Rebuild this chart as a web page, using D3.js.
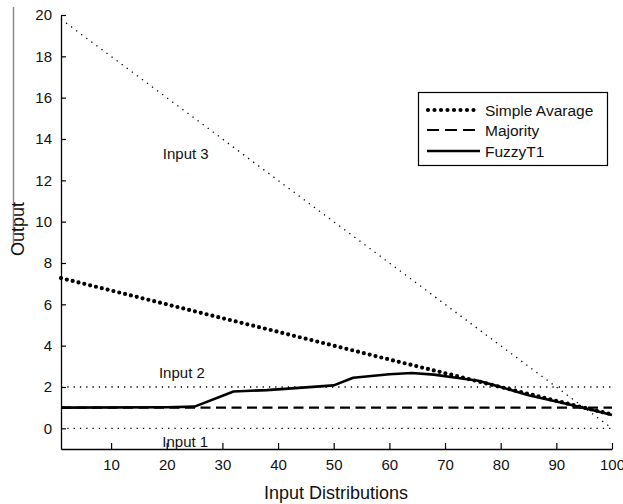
<!DOCTYPE html>
<html>
<head>
<meta charset="utf-8">
<script src="https://cdn.jsdelivr.net/npm/d3@7/dist/d3.min.js"></script>
<style>
  html, body { margin: 0; padding: 0; background: #fff; }
  svg { display: block; font-family: "Liberation Sans", Arial, sans-serif; }
</style>
</head>
<body>
<svg id="chart" width="623" height="504"></svg>
<script>
// ---- data ----
const xTicks = [10, 20, 30, 40, 50, 60, 70, 80, 90, 100];
const yTicks = [0, 2, 4, 6, 8, 10, 12, 14, 16, 18, 20];

const inputX = [1, 100];
const input1 = [0, 0];
const input2 = [2, 2];
const input3 = [19.8, 0];

const avgX = [1, 10, 20, 30, 40, 50, 60, 70, 80, 90, 100];
const simpleAverage = [7.27, 6.67, 6.0, 5.33, 4.67, 4.0, 3.33, 2.67, 2.0, 1.33, 0.67];

const majorityX = [1, 100];
const majority = [1, 1];

const fuzzyX = [1, 20, 25, 32, 38, 45, 50, 53.5, 60, 64, 68, 72, 76, 80, 85, 90, 95, 100];
const fuzzyT1 = [1, 1.02, 1.05, 1.78, 1.85, 1.98, 2.08, 2.45, 2.62, 2.68, 2.6, 2.45, 2.3, 2.0, 1.6, 1.3, 0.98, 0.65];

const legendLabels = ["Simple Avarage", "Majority", "FuzzyT1"];
const inputLabels = [
  {text: "Input 3", x: 19.3, y: 13.05},
  {text: "Input 2", x: 18.6, y: 2.45},
  {text: "Input 1", x: 19.2, y: -0.9}
];

// ---- layout ----
const svg = d3.select("#chart");
const x = d3.scaleLinear().domain([1, 100]).range([61, 612]);
const y = d3.scaleLinear().domain([-1, 20]).range([449, 15]);

const toPts = (xs, ys) => xs.map((v, i) => [v, ys[i]]);
const line = d3.line().x(d => x(d[0])).y(d => y(d[1]));

// stray grey frame line at far left (as in the reference image)
svg.append("line").attr("x1", 13.5).attr("x2", 13.5).attr("y1", 7).attr("y2", 247)
  .attr("stroke", "#8a8a8a").attr("stroke-width", 1.5);

// axes
const xAxis = d3.axisBottom(x).tickValues(xTicks).tickSizeInner(-6).tickSizeOuter(0).tickPadding(10);
const yAxis = d3.axisLeft(y).tickValues(yTicks).tickSizeInner(-5).tickSizeOuter(0).tickPadding(9);

const gx = svg.append("g").attr("transform", `translate(0,${y(-1)})`).call(xAxis);
const gy = svg.append("g").attr("transform", `translate(${x(1)},0)`).call(yAxis);
[gx, gy].forEach(g => {
  g.select(".domain").attr("stroke", "#000").attr("stroke-width", 1.3);
  g.selectAll(".tick line").attr("stroke", "#000").attr("stroke-width", 1.2);
  g.selectAll(".tick text").attr("fill", "#111").attr("font-size", 15)
    .attr("font-family", "Liberation Sans, Arial, sans-serif");
});

// input reference lines (thin dotted)
[[input1], [input2], [input3]].forEach(([ys]) => {
  svg.append("path").datum(toPts(inputX, ys)).attr("d", line)
    .attr("fill", "none").attr("stroke", "#000").attr("stroke-width", 1.3)
    .attr("stroke-dasharray", "1.3 5");
});

// majority dashed
svg.append("path").datum(toPts(majorityX, majority)).attr("d", line)
  .attr("fill", "none").attr("stroke", "#000").attr("stroke-width", 2.2)
  .attr("stroke-dasharray", "10 5.5");

// simple average (heavy dots)
svg.append("path").datum(toPts(avgX, simpleAverage)).attr("d", line)
  .attr("fill", "none").attr("stroke", "#000").attr("stroke-width", 4.2)
  .attr("stroke-linecap", "round").attr("stroke-dasharray", "0 6");

// FuzzyT1 solid
svg.append("path").datum(toPts(fuzzyX, fuzzyT1)).attr("d", line)
  .attr("fill", "none").attr("stroke", "#000").attr("stroke-width", 2.6)
  .attr("stroke-linejoin", "round");

// input labels
svg.selectAll("text.inlab").data(inputLabels).enter().append("text")
  .attr("class", "inlab")
  .attr("x", d => x(d.x)).attr("y", d => y(d.y))
  .attr("font-size", 15).attr("fill", "#111").text(d => d.text);

// axis titles
svg.append("text").attr("x", 336).attr("y", 499).attr("text-anchor", "middle")
  .attr("font-size", 18).attr("fill", "#111").text("Input Distributions");
svg.append("text").attr("transform", "translate(24,229) rotate(-90)")
  .attr("text-anchor", "middle").attr("font-size", 18).attr("fill", "#111").text("Output");

// legend
const lg = svg.append("g");
lg.append("rect").attr("x", 418.5).attr("y", 92.5).attr("width", 189).attr("height", 73)
  .attr("fill", "#fff").attr("stroke", "#000").attr("stroke-width", 1.2);
const rowY = [110, 130, 151];
const styles = [
  {w: 4.2, dash: "0 6.5", cap: "round"},
  {w: 2.2, dash: "12 6", cap: "butt"},
  {w: 2.6, dash: null, cap: "butt"}
];
legendLabels.forEach((lab, i) => {
  const s = styles[i];
  const l = lg.append("line").attr("x1", i === 0 ? 428 : 427).attr("x2", 480)
    .attr("y1", rowY[i]).attr("y2", rowY[i])
    .attr("stroke", "#000").attr("stroke-width", s.w).attr("stroke-linecap", s.cap);
  if (s.dash) l.attr("stroke-dasharray", s.dash);
  lg.append("text").attr("x", 485).attr("y", rowY[i] + 5.5)
    .attr("font-size", 15.5).attr("fill", "#111").text(lab);
});
</script>
</body>
</html>
